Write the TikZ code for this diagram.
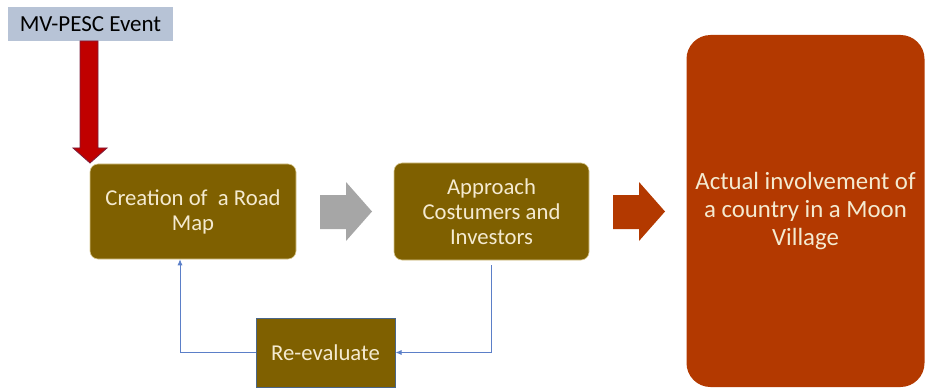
\documentclass[tikz,border=0pt]{standalone}
\usepackage{fontspec}
\setmainfont{Carlito}
\usetikzlibrary{arrows.meta}
\definecolor{boxbrown}{HTML}{7F6000}
\definecolor{boxedge}{HTML}{D8C890}
\definecolor{cream}{HTML}{F4EAD0}
\definecolor{evfill}{HTML}{B7C3D6}
\definecolor{redfill}{HTML}{C00000}
\definecolor{rededge}{HTML}{7A1F3D}
\definecolor{grayarrow}{HTML}{A6A6A6}
\definecolor{rust}{HTML}{B33900}
\definecolor{linkblue}{HTML}{5B7FC8}
\definecolor{reedge}{HTML}{4A6688}
\tikzset{
  txt/.style={font=\fontsize{22.7}{25}\selectfont, align=center, text=cream, inner sep=0pt},
  evbox/.style={fill=evfill, minimum width=165pt, minimum height=34pt, inner sep=0pt,
    font=\fontsize{23}{25}\selectfont, text=black},
  stepbox/.style={txt, fill=boxbrown, draw=boxedge, line width=0.6pt, rounded corners=8pt},
  rebox/.style={txt, fill=boxbrown, draw=reedge, line width=1pt},
  bigbox/.style={fill=rust, rounded corners=24pt, text=cream, align=center,
    font=\fontsize{24.8}{28}\selectfont, inner sep=0pt},
  link/.style={draw=linkblue, line width=0.8pt, -{Latex[length=6pt,width=5pt]}}
}
\begin{document}
\begin{tikzpicture}[x=1pt,y=-1pt]
\useasboundingbox (0,0) rectangle (925,390);
% nodes
\node[evbox] (ev) at (90.5,24) {MV-PESC Event};
\node[stepbox, minimum width=206pt, minimum height=95pt] (cr) at (193,211.5) {Creation of~~a Road\\Map};
\node[stepbox, minimum width=195pt, minimum height=97pt] (ap) at (491.5,211.5) {Approach\\Costumers and\\Investors};
\node[rebox, minimum width=139pt, minimum height=69pt] (re) at (325.5,352.5) {Re-evaluate};
\node[bigbox, minimum width=238pt, minimum height=352pt] (mv) at (805.5,211) {Actual involvement of\\a country in a Moon\\Village};
% red block arrow from event to road map
\draw[fill=redfill, draw=rededge, line width=0.8pt, line join=miter]
  (80,41) -- (98,41) -- (98,148) -- (107,148) -- (90,163) -- (73,148) -- (80,148) -- cycle;
% gray block arrow
\fill[grayarrow] (320,195) -- (346,195) -- (346,182) -- (372,211.5) -- (346,241) -- (346,229) -- (320,229) -- cycle;
% rust block arrow
\fill[rust] (613,195) -- (639,195) -- (639,182) -- (665,211.5) -- (639,241) -- (639,229) -- (613,229) -- cycle;
% feedback connectors
\draw[link] ([yshift=-5pt]ap.south) |- (re.east);
\draw[link] (re.west) -| ([xshift=-13pt]cr.south);
\end{tikzpicture}
\end{document}
